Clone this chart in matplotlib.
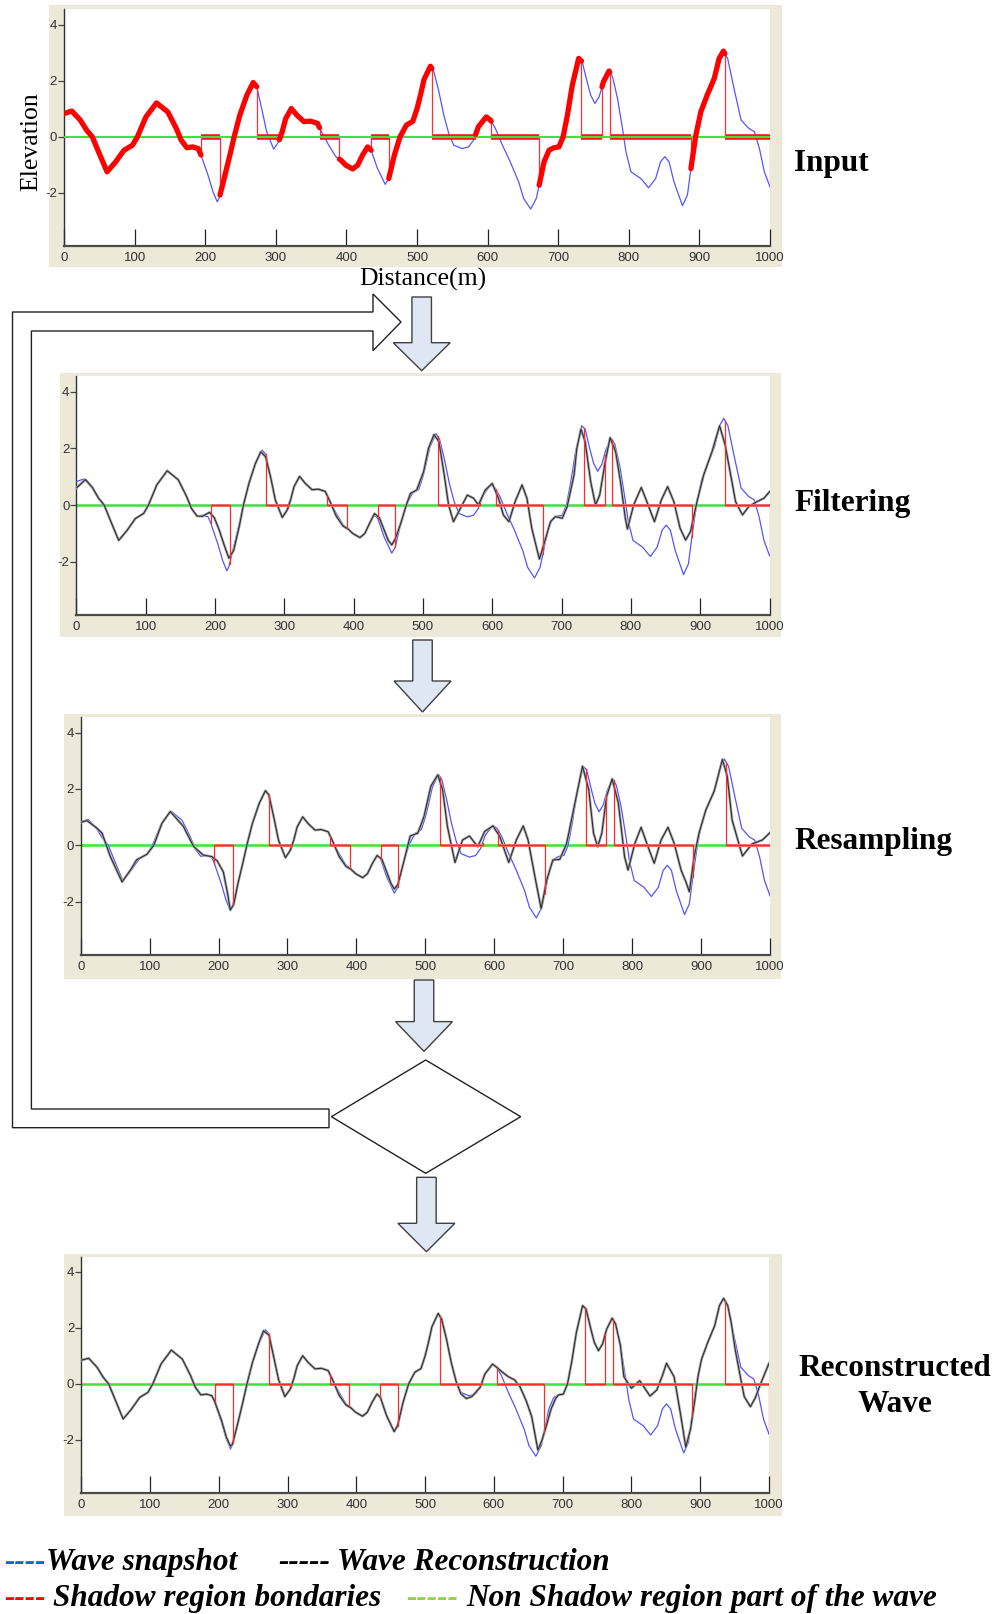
import numpy as np
import matplotlib
matplotlib.use('Agg')
import matplotlib.pyplot as plt
from matplotlib.patches import Rectangle, Polygon
from matplotlib import font_manager
import matplotlib.patheffects as pe

# ---------------- data ----------------
wave_x = [0, 11, 23, 32, 40, 49, 61, 73, 85, 97, 104, 116, 131, 147, 159, 166, 174, 182, 190, 194,
          204, 211, 217, 220, 228, 235, 241, 249, 259, 268, 273, 280, 287, 297, 304, 309, 314, 322,
          330, 340, 349, 359, 366, 375, 385, 392, 399, 409, 416, 423, 430, 435, 444, 455, 460, 468,
          476, 485, 494, 500, 505, 510, 519, 524, 531, 538, 545, 552, 564, 573, 580, 587, 598, 604,
          611, 621, 632, 644, 651, 661, 669, 673, 680, 687, 694, 701, 707, 713, 720, 729, 734, 741,
          746, 752, 758, 764, 772, 777, 784, 791, 796, 803, 817, 828, 838, 845, 851, 857, 864, 876,
          883, 889, 895, 902, 911, 921, 928, 934, 940, 949, 959, 970, 978, 985, 992, 1000]
wave_y = [0.83, 0.92, 0.60, 0.24, 0.00, -0.54, -1.25, -0.90, -0.48, -0.30, 0.00, 0.71, 1.21, 0.89,
          0.30, -0.12, -0.39, -0.36, -0.42, -0.65, -1.37, -1.96, -2.32, -2.18, -1.37, -0.65, 0.00,
          0.77, 1.49, 1.94, 1.79, 1.01, 0.18, -0.44, -0.18, 0.18, 0.65, 1.01, 0.77, 0.54, 0.56, 0.48,
          0.12, -0.30, -0.71, -0.83, -1.01, -1.15, -1.01, -0.65, -0.36, -0.48, -1.13, -1.70, -1.49,
          -0.65, 0.00, 0.42, 0.55, 1.00, 1.50, 2.05, 2.52, 2.32, 1.61, 0.77, 0.12, -0.30, -0.42,
          -0.36, -0.12, 0.36, 0.71, 0.60, 0.30, -0.30, -0.89, -1.61, -2.20, -2.58, -2.20, -1.73,
          -0.89, -0.48, -0.39, -0.36, 0.00, 0.77, 1.85, 2.80, 2.68, 1.96, 1.49, 1.19, 1.43, 1.96,
          2.35, 2.14, 1.37, 0.30, -0.54, -1.25, -1.49, -1.82, -1.49, -0.89, -0.71, -0.89, -1.61,
          -2.46, -2.08, -0.95, 0.06, 0.89, 1.49, 2.08, 2.80, 3.06, 2.80, 1.73, 0.60, 0.30, 0.18,
          -0.42, -1.25, -1.79]

filt_x = [0, 13, 23, 32, 40, 49, 61, 73, 85, 97, 104, 116, 131, 147, 159, 166, 174, 182, 192, 199,
          206, 213, 220, 227, 235, 241, 249, 258, 266, 273, 280, 287, 297, 304, 309, 314, 322, 330,
          340, 349, 359, 366, 375, 385, 392, 399, 409, 416, 423, 430, 437, 444, 450, 455, 460, 468,
          476, 482, 491, 501, 508, 516, 523, 530, 537, 544, 554, 564, 573, 580, 590, 600, 609, 616,
          624, 633, 643, 650, 657, 668, 677, 684, 691, 701, 708, 718, 722, 728, 734, 742, 749, 755,
          763, 770, 778, 785, 792, 795, 804, 815, 823, 834, 844, 853, 862, 871, 879, 886, 896, 905,
          917, 928, 936, 944, 951, 961, 970, 982, 992, 1000]
filt_y = [0.60, 0.90, 0.62, 0.24, 0.00, -0.54, -1.25, -0.90, -0.48, -0.30, 0.00, 0.71, 1.21, 0.89,
          0.30, -0.12, -0.39, -0.40, -0.26, -0.45, -0.88, -1.40, -1.88, -1.60, -0.75, 0.00, 0.77,
          1.45, 1.88, 1.70, 1.01, 0.18, -0.44, -0.18, 0.18, 0.65, 1.01, 0.77, 0.54, 0.56, 0.48, 0.12,
          -0.40, -0.75, -0.85, -1.01, -1.15, -1.01, -0.65, -0.30, -0.45, -0.88, -1.25, -1.41, -1.20,
          -0.65, 0.00, 0.41, 0.53, 1.18, 2.00, 2.49, 2.24, 1.18, 0.00, -0.59, -0.12, 0.35, 0.24,
          0.00, 0.53, 0.76, 0.24, -0.35, -0.59, 0.12, 0.71, 0.24, -0.82, -1.91, -1.18, -0.59, -0.41,
          -0.47, -0.06, 1.06, 2.00, 2.68, 2.24, 0.82, 0.00, 0.35, 1.53, 2.38, 1.88, 0.82, -0.47,
          -0.85, 0.00, 0.62, 0.12, -0.59, 0.18, 0.65, 0.12, -0.82, -1.24, -0.94, 0.18, 1.06, 1.88,
          2.80, 2.12, 1.06, 0.12, -0.35, -0.06, 0.12, 0.24, 0.47]

resamp_x = [0, 9, 23, 31, 43, 60, 73, 81, 96, 106, 118, 130, 149, 164, 178, 190, 198, 207, 213,
            217, 222, 228, 235, 241, 249, 259, 268, 273, 280, 287, 297, 304, 309, 314, 322, 330,
            340, 349, 359, 366, 375, 385, 392, 399, 409, 416, 423, 430, 437, 444, 450, 455, 460,
            468, 478, 489, 498, 508, 518, 525, 532, 543, 554, 564, 576, 586, 598, 608, 621, 632,
            642, 649, 659, 668, 676, 685, 695, 705, 715, 728, 737, 744, 750, 756, 763, 771, 780,
            789, 794, 804, 813, 823, 832, 842, 852, 861, 871, 878, 883, 890, 897, 907, 919, 931,
            938, 945, 960, 974, 989, 1000]
resamp_y = [0.81, 0.88, 0.62, 0.43, -0.40, -1.30, -0.85, -0.52, -0.32, 0.00, 0.79, 1.20, 0.67,
            -0.05, -0.35, -0.40, -0.55, -0.95, -1.70, -2.30, -2.10, -1.37, -0.65, 0.00, 0.77, 1.49,
            1.94, 1.79, 1.01, 0.18, -0.44, -0.18, 0.18, 0.65, 1.01, 0.77, 0.54, 0.56, 0.48, 0.12,
            -0.40, -0.75, -0.85, -1.01, -1.15, -1.01, -0.65, -0.36, -0.50, -0.95, -1.35, -1.55,
            -1.40, -0.65, 0.33, 0.43, 1.02, 2.10, 2.50, 1.98, 0.67, -0.61, 0.19, 0.33, -0.05, 0.49,
            0.69, 0.31, -0.61, 0.19, 0.69, 0.19, -1.12, -2.25, -1.24, -0.52, -0.50, 0.07, 1.26,
            2.81, 1.98, 0.43, -0.05, 0.43, 1.74, 2.36, 1.50, -0.40, -0.88, 0.07, 0.64, -0.05, -0.64,
            0.19, 0.64, 0.07, -0.88, -1.30, -1.65, -0.40, 0.43, 1.26, 1.92, 3.05, 2.45, 0.90, -0.38,
            0.05, 0.19, 0.45]

recon_x = [0, 11, 23, 32, 40, 49, 61, 73, 85, 97, 104, 116, 131, 147, 159, 166, 174, 182, 190, 194,
           204, 211, 217, 220, 228, 235, 241, 249, 258, 265, 273, 280, 287, 296, 304, 309, 314, 322,
           330, 340, 349, 359, 366, 375, 385, 392, 399, 409, 416, 423, 430, 435, 444, 455, 460, 468,
           476, 485, 494, 500, 505, 510, 519, 524, 531, 538, 545, 552, 560, 568, 580, 587, 598, 604,
           611, 621, 630, 638, 647, 655, 664, 670, 676, 683, 690, 694, 701, 707, 713, 720, 729, 734,
           741, 746, 752, 758, 764, 772, 777, 784, 789, 800, 812, 827, 837, 845, 851, 862, 866, 872,
           879, 886, 892, 897, 902, 911, 921, 928, 934, 940, 945, 951, 958, 964, 973, 980, 988, 1000]
recon_y = [0.85, 0.92, 0.60, 0.24, 0.00, -0.54, -1.25, -0.90, -0.48, -0.30, 0.00, 0.71, 1.21, 0.89,
           0.30, -0.12, -0.39, -0.36, -0.42, -0.62, -1.30, -1.90, -2.22, -2.15, -1.37, -0.65, 0.00,
           0.77, 1.45, 1.90, 1.75, 0.95, 0.15, -0.45, -0.18, 0.18, 0.65, 1.01, 0.77, 0.54, 0.56,
           0.48, 0.12, -0.40, -0.75, -0.85, -1.01, -1.15, -1.01, -0.65, -0.36, -0.48, -1.13, -1.70,
           -1.49, -0.65, 0.00, 0.42, 0.55, 1.00, 1.50, 2.05, 2.52, 2.32, 1.61, 0.77, 0.10, -0.35,
           -0.52, -0.45, -0.12, 0.36, 0.71, 0.60, 0.45, 0.26, 0.15, -0.10, -0.60, -1.17, -2.36,
           -2.00, -1.52, -0.90, -0.51, -0.39, -0.36, 0.00, 0.77, 1.85, 2.80, 2.68, 1.96, 1.49, 1.19,
           1.43, 1.96, 2.35, 2.14, 1.37, 0.26, -0.15, 0.12, -0.43, -0.21, 0.30, 0.74, 0.26, -0.30,
           -1.17, -2.26, -1.60, -0.60, 0.30, 0.89, 1.49, 2.08, 2.80, 3.06, 2.80, 2.20, 1.21, 0.30,
           -0.45, -0.81, -0.50, 0.02, 0.74]

shadow_start = [194, 273, 362, 435, 521, 605, 733, 773, 936]
shadow_end = [221, 305, 390, 460, 583, 673, 762, 888, 1000]

x_ticks = list(range(0, 1001, 100))
y_ticks = [-2, 0, 2, 4]
step_titles = ['Input', 'Filtering', 'Resampling', 'Reconstructed', 'Wave']
y_label = 'Elevation'
x_label = 'Distance(m)'
legend_items = [('----', '#0070C0', 'Wave snapshot'),
                ('-----', '#000000', 'Wave Reconstruction'),
                ('----', '#FF0000', 'Shadow region bondaries'),
                ('-----', '#92D050', 'Non Shadow region part of the wave')]

# ---------------- layout ----------------
W, H = 998, 1614
fig = plt.figure(figsize=(W / 100, H / 100), dpi=100)
fig.patch.set_facecolor('white')

names = {f.name for f in font_manager.fontManager.ttflist}
tick_font = 'Liberation Sans Narrow' if 'Liberation Sans Narrow' in names else 'Liberation Sans'
serif = ['Liberation Serif', 'DejaVu Serif']


def frac(l, t, r, b):
    return [l / W, 1 - b / H, (r - l) / W, (b - t) / H]


bg = fig.add_axes([0, 0, 1, 1])
bg.set_xlim(0, W)
bg.set_ylim(H, 0)
bg.axis('off')
bg.set_zorder(0)

FRAME = '#ECE9D8'
frames = [(49, 5, 782, 267), (60, 373, 781, 637), (64, 714, 781, 979), (64, 1254, 782, 1516)]
axes_px = [(64, 9.4, 770, 246), (76.4, 376.2, 769.5, 615.4), (80.7, 717.2, 770, 955.1),
           (81.2, 1256.6, 769, 1493.2)]
for (l, t, r, b) in frames:
    bg.add_patch(Rectangle((l, t), r - l, b - t, facecolor=FRAME, edgecolor='none'))

BLUE = '#5555FF'
GREEN = '#3BE33B'
wx = np.array(wave_x, float)
wy = np.array(wave_y, float)


def setup_axes(rect):
    ax = fig.add_axes(frac(*rect))
    ax.set_zorder(2)
    ax.set_facecolor('white')
    ax.set_xlim(0, 1000)
    ax.set_ylim(-3.9, 4.55)
    ax.set_xticks(x_ticks)
    ax.set_xticklabels([str(v) for v in x_ticks], fontfamily=tick_font, fontsize=9.5, color='#333333')
    ax.set_yticks(y_ticks)
    ax.set_yticklabels([str(v) for v in y_ticks], fontfamily=tick_font, fontsize=9.5, color='#333333')
    ax.tick_params(axis='x', direction='in', length=12, width=0.9, color='#222222', pad=4)
    ax.tick_params(axis='y', direction='out', length=4, width=0.9, color='#444444', pad=1)
    for s in ['top', 'right']:
        ax.spines[s].set_visible(False)
    ax.spines['left'].set_color('#303030')
    ax.spines['left'].set_linewidth(1.0)
    ax.spines['bottom'].set_color('#4a4a4a')
    ax.spines['bottom'].set_linewidth(1.6)
    return ax


def shadow_path():
    xs, ys = [], []
    for a, b in zip(shadow_start, shadow_end):
        xs += [a, a, b, b, np.nan]
        ys += [np.interp(a, wx, wy), 0, 0, np.interp(b, wx, wy), np.nan]
    return xs, ys


# ---- panel 1: input ----
ax1 = setup_axes(axes_px[0])
ax1.plot(wx, wy, color=BLUE, lw=0.9, zorder=2, solid_joinstyle='round')
for a, b in zip(shadow_start, shadow_end):
    ax1.plot([a, b], [0, 0], color='#FF1010', lw=4.0, solid_capstyle='butt', zorder=3)
    ax1.plot([a, a], [0, np.interp(a, wx, wy)], color='#FF3030', lw=0.9, zorder=3)
    ax1.plot([b, b], [0, np.interp(b, wx, wy)], color='#FF3030', lw=0.9, zorder=3)
ax1.axhline(0, color=GREEN, lw=1.5, zorder=4)
lit_start = [0] + shadow_end[:-1]
lit_end = shadow_start
for c, d in zip(lit_start, lit_end):
    inner = wx[(wx > c) & (wx < d)]
    xs = np.concatenate([[c], inner, [d]])
    ax1.plot(xs, np.interp(xs, wx, wy), color='#FF0000', lw=3.8, solid_capstyle='round',
             solid_joinstyle='round', zorder=5)

# ---- panels 2-4 ----
recons = [(filt_x, filt_y), (resamp_x, resamp_y), (recon_x, recon_y)]
sx, sy = shadow_path()
for i, (rx, ry) in enumerate(recons):
    ax = setup_axes(axes_px[i + 1])
    ax.axhline(0, color=GREEN, lw=1.8, zorder=2)
    ax.plot(wx, wy, color=BLUE, lw=0.9, zorder=3, solid_joinstyle='round')
    ax.plot(rx, ry, color='#2a2a2a', lw=0.75, zorder=4, solid_joinstyle='round',
            path_effects=[pe.Stroke(linewidth=1.9, foreground='#a8a8a8'), pe.Normal()])
    for a, b in zip(shadow_start, shadow_end):
        ax.plot([a, b], [0, 0], color='#FF6A6A', lw=2.0, solid_capstyle='butt', zorder=5)
    ax.plot(sx, sy, color='#FF2a2a', lw=0.9, zorder=6)

# ---------------- text ----------------
bg.text(31, 142, y_label, rotation=90, ha='center', va='center', fontsize=18.5, family=serif)
bg.text(423, 279, x_label, ha='center', va='center', fontsize=18.5, family=serif)

tpos = [(794, 164, 'left'), (794, 504, 'left'), (794, 841, 'left'), (895, 1368, 'center'),
        (895, 1405, 'center')]
for (x, y, ha), t in zip(tpos, step_titles):
    bg.text(x, y, t, ha=ha, va='center', fontsize=22.5, fontweight='bold', family=serif)

leg_pos = [(4, 46, 1570), (278, 337, 1570), (4, 53, 1606), (406, 466, 1606)]
for (dx, tx, y), (dash, col, label) in zip(leg_pos, legend_items):
    bg.text(dx, y, dash, color=col, ha='left', va='baseline', fontsize=22.5, fontweight='bold',
            fontstyle='italic', family=serif)
    bg.text(tx, y, label, color='black', ha='left', va='baseline', fontsize=22.5, fontweight='bold',
            fontstyle='italic', family=serif)

# ---------------- flowchart shapes ----------------
ARROW_FILL = '#DEE7F3'


def down_arrow(cx, top, head_y, tip, sw=19.5, hw=57):
    pts = [(cx - sw / 2, top), (cx + sw / 2, top), (cx + sw / 2, head_y), (cx + hw / 2, head_y),
           (cx, tip), (cx - hw / 2, head_y), (cx - sw / 2, head_y)]
    bg.add_patch(Polygon(pts, closed=True, facecolor=ARROW_FILL, edgecolor='#404040', lw=1.0))


down_arrow(421.7, 297, 342.7, 370.7)
down_arrow(422.5, 640, 681, 712)
down_arrow(424, 980, 1021.6, 1051.4)
down_arrow(426.4, 1177.3, 1223.3, 1251.7)

loop = [(329, 1109), (31.4, 1109), (31.4, 331), (373, 331), (373, 350.7), (401, 322),
        (373, 294), (373, 312), (12.5, 312), (12.5, 1127.7), (329, 1127.7)]
bg.add_patch(Polygon(loop, closed=True, facecolor='white', edgecolor='#222222', lw=1.0))

diamond = [(331.4, 1116.7), (425.7, 1060), (520.7, 1116.7), (425.7, 1173.3)]
bg.add_patch(Polygon(diamond, closed=True, facecolor='white', edgecolor='#222222', lw=1.0))

fig.savefig('out.png', dpi=100, facecolor='white')
